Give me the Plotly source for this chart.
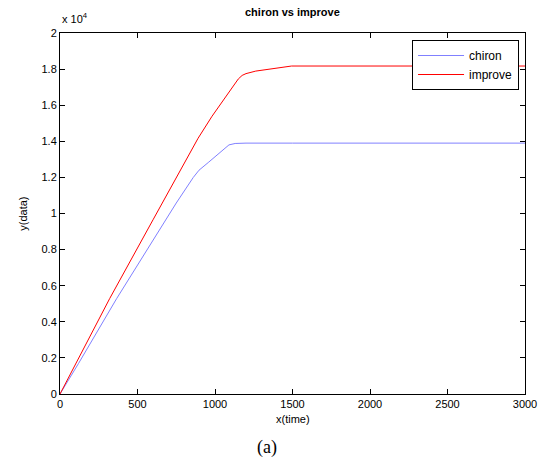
import plotly.graph_objects as go

# data (y in units of 1e4)
chiron_x = [0, 120, 365, 560, 750, 860, 897, 960, 1019, 1060, 1090, 1130, 1200, 1500, 2000, 2500, 3000]
chiron_y = [0, 0.17, 0.528, 0.80, 1.058, 1.20, 1.24, 1.285, 1.33, 1.36, 1.38, 1.388, 1.39, 1.39, 1.39, 1.39, 1.39]
improve_x = [0, 120, 320, 600, 891, 981, 1040, 1090, 1120, 1150, 1175, 1200, 1263, 1391, 1494, 2000, 2500, 3000]
improve_y = [0, 0.2, 0.528, 0.965, 1.417, 1.539, 1.61, 1.672, 1.71, 1.745, 1.765, 1.775, 1.789, 1.806, 1.817, 1.817, 1.817, 1.817]
x_ticks = [0, 500, 1000, 1500, 2000, 2500, 3000]
y_ticks = [0, 0.2, 0.4, 0.6, 0.8, 1, 1.2, 1.4, 1.6, 1.8, 2]

FONT = "Liberation Sans, Arial, sans-serif"

fig = go.Figure()
fig.add_trace(go.Scatter(x=chiron_x, y=chiron_y, mode="lines", name="chiron",
                         line=dict(color="#8080ff", width=1)))
fig.add_trace(go.Scatter(x=improve_x, y=improve_y, mode="lines", name="improve",
                         line=dict(color="#ff0000", width=1)))

axis_common = dict(showline=True, linecolor="black", linewidth=1, mirror="ticks",
                   ticks="inside", ticklen=5, tickcolor="black", showgrid=False,
                   zeroline=False, tickfont=dict(family=FONT, size=11, color="black"))

fig.update_layout(
    width=549, height=461,
    margin=dict(l=60, r=21, t=33, b=67),
    paper_bgcolor="white", plot_bgcolor="white",
    font=dict(family=FONT, size=11, color="black"),
    showlegend=True,
    legend=dict(x=(522 - 60) / 468, y=(394 - 40) / 361, xanchor="right", yanchor="top",
                bgcolor="white", bordercolor="black", borderwidth=1,
                font=dict(family=FONT, size=12, color="black"),
                itemwidth=46, tracegroupgap=0),
    xaxis=dict(range=[0, 3000], tickvals=x_ticks, ticktext=[str(v) for v in x_ticks], **axis_common),
    yaxis=dict(range=[0, 2], tickvals=y_ticks, ticktext=[f"{v:g}" for v in y_ticks], **axis_common),
    annotations=[
        dict(text="<b>chiron vs improve</b>", x=0.5, y=(394 - 12) / 361, xref="paper", yref="paper",
             showarrow=False, font=dict(family=FONT, size=11), xanchor="center", yanchor="middle"),
        dict(text="x 10<sup>4</sup>", x=0, y=(394 - 18) / 361, xref="paper", yref="paper",
             showarrow=False, font=dict(family=FONT, size=11), xanchor="left", yanchor="middle"),
        dict(text="x(time)", x=0.5, y=(394 - 419) / 361, xref="paper", yref="paper",
             showarrow=False, font=dict(family=FONT, size=11), xanchor="center", yanchor="middle"),
        dict(text="y(data)", x=(22 - 60) / 468, y=0.5, xref="paper", yref="paper", textangle=-90,
             showarrow=False, font=dict(family=FONT, size=11), xanchor="center", yanchor="middle"),
        dict(text="(a)", x=(268 - 60) / 468, y=(394 - 447) / 361, xref="paper", yref="paper",
             showarrow=False, font=dict(family="Liberation Serif, Times New Roman, serif", size=18),
             xanchor="center", yanchor="middle"),
        dict(text="cases:", x=-58 / 468, y=(394 + 7) / 361, xref="paper", yref="paper",
             showarrow=False, font=dict(family="Liberation Serif, Times New Roman, serif", size=18),
             xanchor="left", yanchor="middle"),
    ],
)

fig.write_html("out.html", config={"displayModeBar": False},
               post_script="document.body.style.margin='0';document.body.style.overflow='hidden';")
